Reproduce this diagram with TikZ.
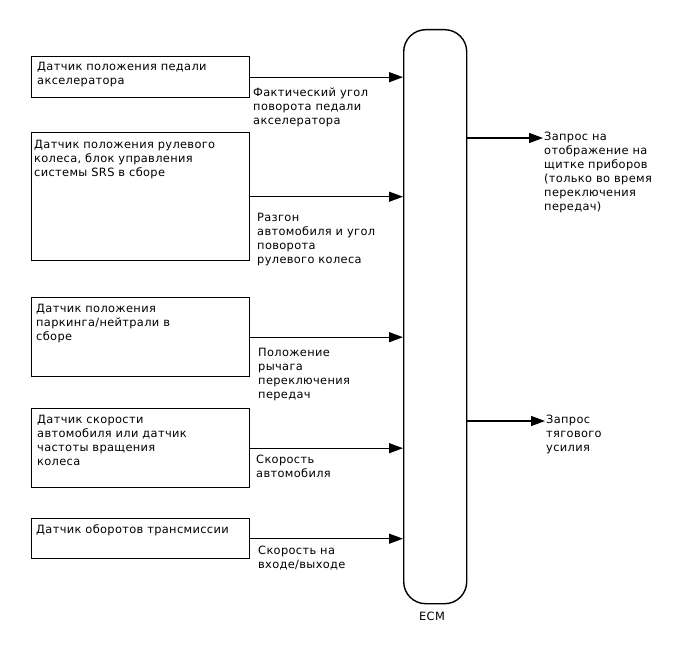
\documentclass[tikz,border=0pt]{standalone}
\usepackage{fontspec}
\setmainfont{DejaVu Sans}[LetterSpace=3]
\usetikzlibrary{arrows.meta,positioning,calc}
\tikzset{
  sensor/.style={draw, line width=1.4pt, anchor=north west, minimum width=218pt,
    inner sep=0pt},
  senstxt/.style={anchor=north west, align=left, inner sep=0pt,
    font=\fontsize{11.4}{14}\selectfont},
  sigtxt/.style={anchor=north west, align=left, inner sep=0pt,
    font=\fontsize{11.4}{14}\selectfont},
  sigln/.style={-{Triangle[length=14pt,width=10pt]}, line width=1.3pt},
}
\begin{document}
\begin{tikzpicture}[x=1pt,y=-1pt]
  \useasboundingbox[fill=white] (0,0) rectangle (688,658);
  % ECM block
  \node[draw, line width=1.4pt, rounded corners=22pt, anchor=north west,
    minimum width=63pt, minimum height=574pt, inner sep=0pt] (ecm) at (403,29) {};
  \node[font=\fontsize{11.4}{14}\selectfont] (ecmlab) at (432,616) {ECM};
  % sensors
  \node[sensor, minimum height=41pt] (acc) at (31,56) {};
  \node[senstxt] (acctxt) at ($(acc.north west)+(6,6)$)
    {Датчик положения педали\\акселератора};
  \node[sensor, minimum height=128pt] (steer) at (31,132) {};
  \node[senstxt] (steertxt) at ($(steer.north west)+(3,8)$)
    {Датчик положения рулевого\\колеса, блок управления\\системы SRS в сборе};
  \node[sensor, minimum height=79pt] (park) at (31,297) {};
  \node[senstxt] (parktxt) at ($(park.north west)+(5,7)$)
    {Датчик положения\\паркинга/нейтрали в\\сборе};
  \node[sensor, minimum height=79pt] (vss) at (31,408) {};
  \node[senstxt] (vsstxt) at ($(vss.north west)+(6,7)$)
    {Датчик скорости\\автомобиля или датчик\\частоты вращения\\колеса};
  \node[sensor, minimum height=40pt] (tss) at (31,518) {};
  \node[senstxt] (tsstxt) at ($(tss.north west)+(5,6)$)
    {Датчик оборотов трансмиссии};
  % inputs
  \foreach \s in {acc,steer,park,vss,tss}
    \draw[sigln] (\s.east) -- (\s.east -| ecm.west);
  \node[sigtxt] (acclab) at (253,88) {Фактический угол\\поворота педали\\акселератора};
  \node[sigtxt] (steerlab) at (257,213) {Разгон\\автомобиля и угол\\поворота\\рулевого колеса};
  \node[sigtxt] (parklab) at (258,348) {Положение\\рычага\\переключения\\передач};
  \node[sigtxt] (vsslab) at (256,455) {Скорость\\автомобиля};
  \node[sigtxt] (tsslab) at (258,546) {Скорость на\\входе/выходе};
  % outputs
  \coordinate (dash) at (543,138);
  \coordinate (trac) at (545,421);
  \draw[sigln] (dash -| ecm.east) -- (dash);
  \draw[sigln] (trac -| ecm.east) -- (trac);
  \node[sigtxt] (dashlab) at (544,132)
    {Запрос на\\отображение на\\щитке приборов\\(только во время\\переключения\\передач)};
  \node[sigtxt] (traclab) at (546,415) {Запрос\\тягового\\усилия};
\end{tikzpicture}
\end{document}
